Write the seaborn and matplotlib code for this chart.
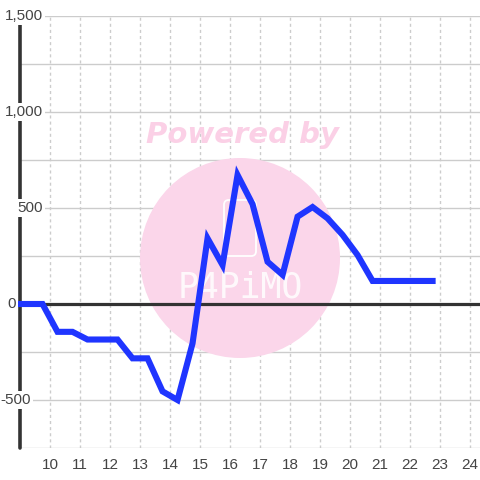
import matplotlib as mpl
mpl.use("Agg")
import matplotlib.pyplot as plt
from matplotlib.patches import Circle, FancyBboxPatch
import matplotlib.transforms as mtransforms
import seaborn as sns
import pandas as pd

# data
x_vals = [9.0, 9.75, 10.25, 10.75, 11.25, 11.75, 12.25, 12.75, 13.25, 13.75,
          14.25, 14.75, 15.25, 15.75, 16.25, 16.75, 17.25, 17.75, 18.25, 18.75,
          19.25, 19.75, 20.25, 20.75, 21.25, 21.75, 22.25, 22.75]
y_vals = [0, 0, -145, -145, -185, -185, -185, -283, -283, -455,
          -500, -205, 342, 203, 672, 520, 220, 152, 455, 505,
          446, 360, 255, 120, 120, 120, 120, 120]
x_ticks = list(range(10, 25))
y_labels = ["1,500", "1,000", "500", "0", "-500"]
y_label_vals = [1500, 1000, 500, 0, -500]
y_label_right = [43, 43, 43, 16, 31]  # right edge of each label, in pixels

df = pd.DataFrame({"x": x_vals, "y": y_vals})

sns.set_theme(style="white")
plt.rcParams["font.family"] = ["Liberation Sans", "DejaVu Sans"]

fig = plt.figure(figsize=(4.8, 4.8), dpi=100)
fig.patch.set_facecolor("white")
ax = fig.add_axes([20 / 480, 32 / 480, 460 / 480, 432 / 480])
ax.set_facecolor("white")

# watermark
ax.add_patch(Circle((240 / 480, 1 - 258 / 480), 100 / 480, transform=fig.transFigure,
                    facecolor="#fbd6ea", edgecolor="none", zorder=1))
ax.add_patch(FancyBboxPatch((224 / 480, 1 - 256 / 480), 32 / 480, 56 / 480,
                            boxstyle="round,pad=0,rounding_size=0.01",
                            transform=fig.transFigure, facecolor="none",
                            edgecolor="white", linewidth=1.3, zorder=1.2))
fig.text(242 / 480, 1 - 135 / 480, "Powered by", ha="center", va="center",
         fontsize=21, fontweight="bold", fontstyle="italic", color="#fbd0e6",
         family="DejaVu Sans", zorder=2)
ax.text(240 / 480, 1 - 287 / 480, "P4PiMO", transform=fig.transFigure,
        ha="center", va="center", fontsize=25, color="white", alpha=0.85,
        family="DejaVu Sans Mono", fontweight="light", zorder=1.2)

sns.lineplot(data=df, x="x", y="y", ax=ax, color="#1f35ff", linewidth=4.4,
             solid_capstyle="projecting", solid_joinstyle="miter", zorder=5,
             clip_on=False)

ax.set_xlim(9, 24.33)
ax.set_ylim(-750, 1500)
ax.set_xticks(x_ticks)
ax.set_yticks(list(range(-750, 1501, 250)))
ax.set_yticklabels([])
ax.set_xlabel("")
ax.set_ylabel("")
for s in ax.spines.values():
    s.set_visible(False)

ax.grid(axis="y", color="#cccccc", linewidth=1, linestyle="-", zorder=1.5)
ax.grid(axis="x", color="#cccccc", linewidth=1, linestyle=(0, (2.2, 2.2)), zorder=1.5)
ax.tick_params(axis="both", length=0)
ax.tick_params(axis="x", pad=7, labelsize=11, labelcolor="#444444")

ax.axhline(0, color="#333333", linewidth=2.3, zorder=4)
ax.axvline(9, color="#333333", linewidth=2.6, zorder=3, clip_on=False)

trans = mtransforms.blended_transform_factory(fig.transFigure, ax.transData)
for lab, val, xr in zip(y_labels, y_label_vals, y_label_right):
    fig_x = xr / 480
    ax.text(fig_x, val, lab, transform=trans, ha="right", va="center",
            fontsize=11, color="#444444", zorder=6, clip_on=False,
            bbox=dict(facecolor="white", edgecolor="none", pad=1.5))

fig.savefig("out.png", dpi=100)
